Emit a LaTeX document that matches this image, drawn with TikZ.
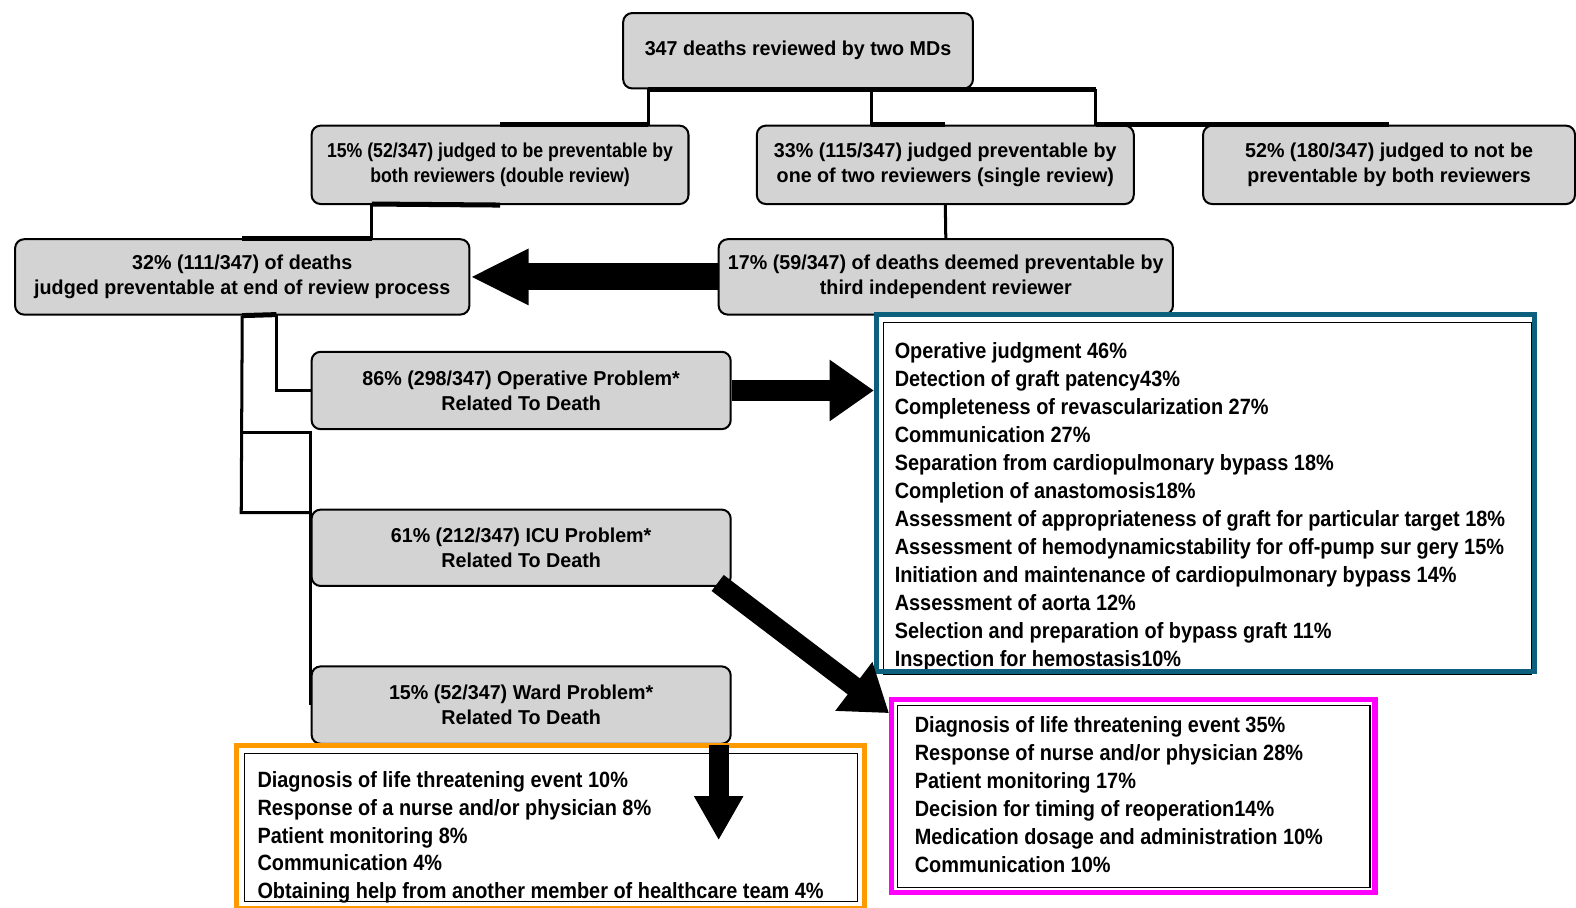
\documentclass[tikz,border=0pt]{standalone}
\usepackage{fontspec}
\setmainfont{Liberation Sans}
\newfontfamily\boxfont{Liberation Sans}[FakeStretch=0.98]
\newfontfamily\narrowboxfont{Liberation Sans}[FakeStretch=0.88]
\newfontfamily\listfont{Liberation Sans}[FakeStretch=0.9]
\usetikzlibrary{positioning,arrows.meta,calc}

\definecolor{boxgray}{RGB}{211,211,211}
\definecolor{opteal}{RGB}{12,96,125}
\definecolor{icupink}{RGB}{255,0,255}
\definecolor{wardorange}{RGB}{255,153,0}

\tikzset{
  graybox/.style={draw,line width=2pt,fill=boxgray,rounded corners=9pt,inner sep=0pt,align=center,
    font=\boxfont\bfseries\fontsize{20}{25}\selectfont},
  listtext/.style={anchor=north west,inner sep=0pt,align=left,
    font=\listfont\bfseries\fontsize{22}{27.8}\selectfont},
  frame/.style={draw=#1,line width=5pt,inner sep=0pt},
  link/.style={line width=3pt},
  bar/.style={line width=5pt},
  fat/.style={line width=20pt,-{Triangle[length=44pt,width=58pt]}}
}

\begin{document}
\begin{tikzpicture}[x=1pt,y=-1pt]
\useasboundingbox (0,0) rectangle (1568,903);

\node[graybox,minimum width=348,minimum height=75] (top) at (794,50.5) {347 deaths reviewed by two MDs};
\node[graybox,minimum width=375,minimum height=78,font=\narrowboxfont\bfseries\fontsize{20}{25}\selectfont] (dbl) at (497.5,164) {15\% (52/347) judged to be preventable by\\both reviewers (double review)};
\node[graybox,minimum width=375,minimum height=78] (sgl) at (940.5,164) {33\% (115/347) judged preventable by\\one of two reviewers (single review)};
\node[graybox,minimum width=370,minimum height=78] (notp) at (1382,164) {52\% (180/347) judged to not be\\preventable by both reviewers};
\node[graybox,minimum width=452,minimum height=75] (endp) at (241,275.5) {32\% (111/347) of deaths\\judged preventable at end of review process};
\node[graybox,minimum width=452,minimum height=75] (third) at (941,275.5) {17\% (59/347) of deaths deemed preventable by\\third independent reviewer};
\node[graybox,minimum width=417,minimum height=77] (oper) at (518.5,388.5) {86\% (298/347) Operative Problem*\\Related To Death};
\node[graybox,minimum width=417,minimum height=76] (icu) at (518.5,545) {61\% (212/347) ICU Problem*\\Related To Death};
\node[graybox,minimum width=417,minimum height=77] (ward) at (518.5,701.5) {15\% (52/347) Ward Problem*\\Related To Death};

% tree below the top box
\coordinate (ta) at (645,89);
\coordinate (tb) at (867,89);
\coordinate (tc) at (1090,89);
\draw[bar] (ta) -- (tc);
\draw[link] (ta) -- (ta |- dbl.north);
\draw[link] (tb) -- (tb |- sgl.north);
\draw[link] (tc) -- (tc |- notp.north);
\draw[bar] (ta |- dbl.north) -- (dbl.north);
\draw[bar] (tb |- sgl.north) -- (sgl.north);
\draw[bar] (tc |- notp.north) -- (notp.north);

\coordinate (da) at (370,203);
\draw[bar] (dbl.south) -- (da);
\draw[link] (da) -- (da |- endp.north);
\draw[bar] (da |- endp.north) -- (endp.north);
\draw[link] (sgl.south) -- (third.north);

\draw[line width=27pt,-{Triangle[length=58pt,width=52pt]}] (third.west) -- (endp.east);

% problem branches
\coordinate (eb) at (275,313);
\coordinate (ec) at (240,430);
\coordinate (ed) at (240,510);
\draw[bar] (endp.south) -- (eb);
\draw[link] (eb) -- (eb |- oper.west) -- (oper.west);
\draw[link] (endp.south) -- (ed) -- (ed -| oper.west);
\draw[link] (ec) -- (ec -| oper.west) -- (ward.west);

% result lists
\draw[line width=1.2pt] (879,321) rectangle (1524,671);
\node[frame=opteal,minimum width=655,minimum height=355] (opbox) at (1199.5,490.5) {};
\begin{scope}
\clip (875,316) rectangle (1524,665);
\node[listtext] (oplist) at (890,341) {Operative judgment 46\%\\
Detection of graft patency43\%\\
Completeness of revascularization 27\%\\
Communication 27\%\\
Separation from cardiopulmonary bypass 18\%\\
Completion of anastomosis18\%\\
Assessment of appropriateness of graft for particular target 18\%\\
Assessment of hemodynamicstability for off-pump sur gery 15\%\\
Initiation and maintenance of cardiopulmonary bypass 14\%\\
Assessment of aorta 12\%\\
Selection and preparation of bypass graft 11\%\\
Inspection for hemostasis10\%};
\end{scope}

\draw[line width=1.2pt] (893,702) rectangle (1363,883);
\node[frame=icupink,minimum width=481,minimum height=192] (icubox) at (1127.5,792) {};
\node[listtext] (iculist) at (910,713) {Diagnosis of life threatening event 35\%\\
Response of nurse and/or physician 28\%\\
Patient monitoring 17\%\\
Decision for timing of reoperation14\%\\
Medication dosage and administration 10\%\\
Communication 10\%};

\draw[line width=1.2pt] (243,750) rectangle (853,897);
\node[frame=wardorange,minimum width=625,minimum height=162] (wardbox) at (547.5,823) {};
\node[listtext] (wardlist) at (256,767) {Diagnosis of life threatening event 10\%\\
Response of a nurse and/or physician 8\%\\
Patient monitoring 8\%\\
Communication 4\%\\
Obtaining help from another member of healthcare team 4\%};

% arrows to the lists
\draw[fat] (oper.east) -- (oper.east -| opbox.west);
\draw[fat] ($(icu.south east)+(-14,-4)$) -- ($(icubox.north west)+(0,16)$);
\coordinate (wd) at (715,836);
\draw[fat,-{Triangle[length=44pt,width=46pt]}] (wd |- ward.south) -- (wd);

\end{tikzpicture}
\end{document}
